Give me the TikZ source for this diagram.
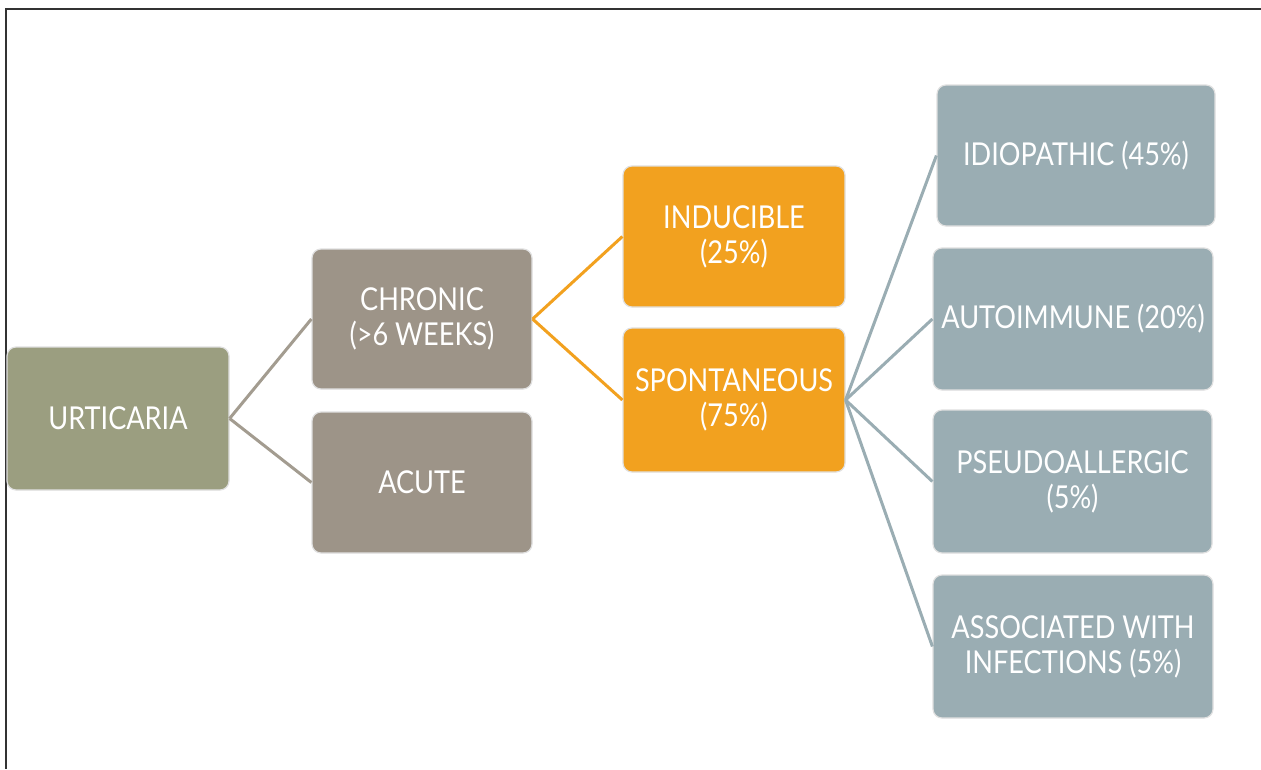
\documentclass[tikz,border=0pt]{standalone}
\usepackage{fontspec}
\setmainfont{Lato}[FakeStretch=0.86]
\begin{document}
\begin{tikzpicture}[x=1pt,y=-1pt,
  box/.style={rectangle, rounded corners=9pt, draw=black!12, line width=1.2pt,
    text=white, align=center, inner sep=0pt,
    font=\fontsize{31.5}{35}\selectfont},
  olivebox/.style={box, fill=olivec},
  taupebox/.style={box, fill=taupec},
  orangebox/.style={box, fill=orangec},
  slatebox/.style={box, fill=slatec},
  link/.style={line width=3pt}]
\definecolor{olivec}{HTML}{9B9E80}
\definecolor{taupec}{HTML}{9D9488}
\definecolor{orangec}{HTML}{F2A11F}
\definecolor{slatec}{HTML}{9AADB3}
\definecolor{taupelink}{HTML}{A39C90}
\useasboundingbox (0,0) rectangle (1261,769);
\fill[white] (0,0) rectangle (1261,769);
% frame edges
\draw[line width=2pt, black!80] (5,8.5) -- (1261,8.5);
\draw[line width=2pt, black!80] (6,8) -- (6,769);

% boxes
\node[olivebox, minimum width=222pt, minimum height=143pt] (urt) at (118,418.5) {URTICARIA};
\node[taupebox, minimum width=220pt, minimum height=140pt] (chr) at (422,319) {CHRONIC\\(>6 WEEKS)};
\node[taupebox, minimum width=220pt, minimum height=141pt] (acu) at (422,482.5) {ACUTE};
\node[orangebox, minimum width=222pt, minimum height=141pt] (ind) at (734,236.5) {INDUCIBLE\\(25\%)};
\node[orangebox, minimum width=222pt, minimum height=144pt] (spo) at (734,400) {SPONTANEOUS\\(75\%)};
\node[slatebox, minimum width=278pt, minimum height=141pt] (idi) at (1076,155.5) {IDIOPATHIC (45\%)};
\node[slatebox, minimum width=280pt, minimum height=142pt] (aut) at (1073,319) {AUTOIMMUNE (20\%)};
\node[slatebox, minimum width=279pt, minimum height=143pt] (pse) at (1072.5,481.5) {PSEUDOALLERGIC\\(5\%)};
\node[slatebox, minimum width=280pt, minimum height=143pt] (ass) at (1073,646.5) {ASSOCIATED WITH\\INFECTIONS (5\%)};

% connectors
\draw[link, taupelink] (urt.east) -- (chr.west);
\draw[link, taupelink] (urt.east) -- (acu.west);
\draw[link, orangec] (chr.east) -- (ind.west);
\draw[link, orangec] (chr.east) -- (spo.west);
\draw[link, slatec] (spo.east) -- (idi.west);
\draw[link, slatec] (spo.east) -- (aut.west);
\draw[link, slatec] (spo.east) -- (pse.west);
\draw[link, slatec] (spo.east) -- (ass.west);
\end{tikzpicture}
\end{document}
